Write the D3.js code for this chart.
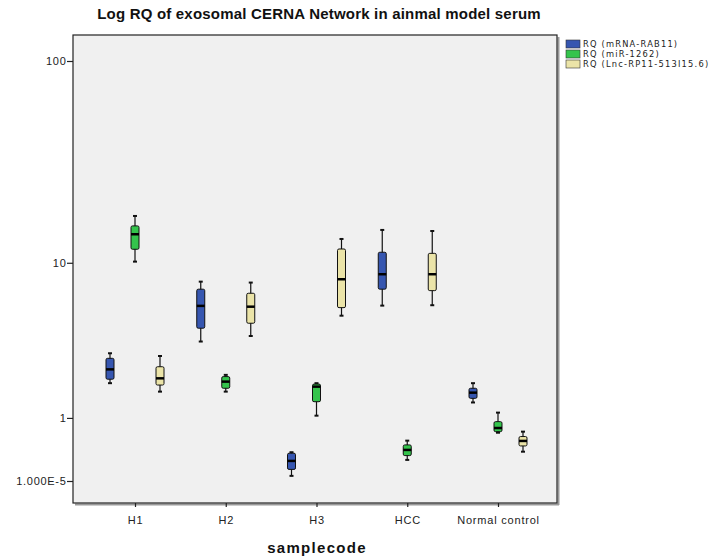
<!DOCTYPE html>
<html>
<head>
<meta charset="utf-8">
<script src="https://cdn.jsdelivr.net/npm/d3@7"></script>
<style>
  body { margin: 0; background: #fff; }
  svg { font-family: "Liberation Sans", Arial, sans-serif; }
</style>
</head>
<body>
<svg id="chart" width="725" height="557"></svg>
<script>
// categories on the x axis and the three series
const categories = ["H1", "H2", "H3", "HCC", "Normal control"];
const seriesNames = ["RQ (mRNA-RAB11)", "RQ (miR-1262)", "RQ (Lnc-RP11-513I15.6)"];
const seriesColors = ["#3656b0", "#34c44c", "#ebe4a8"];

// five-number summaries per category: [min, q1, median, q3, max]
const rab11 = [
  [1.93, 2.06, 2.41, 2.85, 3.07],
  [3.63, 4.36, 5.85, 7.23, 7.94],
  [0.058, 0.136, 0.247, 0.357, 0.372],
  [5.87, 7.23, 8.7, 11.35, 14.78],
  [1.37, 1.48, 1.64, 1.77, 1.93]
];
const mir1262 = [
  [10.14, 11.76, 14.05, 15.5, 17.4],
  [1.67, 1.77, 1.98, 2.15, 2.21],
  [1.05, 1.39, 1.82, 1.9, 1.93],
  [0.261, 0.322, 0.407, 0.487, 0.558],
  [0.7, 0.72, 0.79, 0.92, 1.12]
];
const lncRP11 = [
  [1.67, 1.87, 2.09, 2.51, 2.95],
  [3.92, 4.66, 5.79, 6.87, 7.85],
  [5.15, 5.72, 8.18, 11.8, 13.29],
  [5.9, 7.1, 8.7, 11.2, 14.6],
  [0.38, 0.47, 0.553, 0.63, 0.72]
];

// y ticks as SPSS printed them
const yTickValues = [0.00001, 1, 10, 100];
const yTickLabels = ["1.000E-5", "1", "10", "100"];

const allSeries = [rab11, mir1262, lncRP11];

const svg = d3.select("#chart");
const frame = { left: 73, right: 557, top: 35, bottom: 503 };

// the axis is log10(x + 1), i.e. a symlog with constant 1
const y = d3.scaleSymlog().constant(1).domain([0, 100]).range([481, 61]);
const x = d3.scalePoint().domain(categories).range([135, 498]);
const xSeries = d3.scaleBand().domain(seriesNames).range([-37.5, 37.5]);
const boxW = 8;

// plot frame with shadow
svg.append("line")
  .attr("x1", frame.left + 2).attr("x2", frame.right + 2)
  .attr("y1", frame.bottom + 1.5).attr("y2", frame.bottom + 1.5)
  .attr("stroke", "#999").attr("stroke-width", 2);
svg.append("line")
  .attr("x1", frame.right + 1.5).attr("x2", frame.right + 1.5)
  .attr("y1", frame.top + 2).attr("y2", frame.bottom + 2)
  .attr("stroke", "#999").attr("stroke-width", 2);
svg.append("rect")
  .attr("x", frame.left).attr("y", frame.top)
  .attr("width", frame.right - frame.left)
  .attr("height", frame.bottom - frame.top)
  .attr("fill", "#f0f0f0")
  .attr("stroke", "#222").attr("stroke-width", 1.2);

// y axis
const yAxis = d3.axisLeft(y)
  .tickValues(yTickValues)
  .tickSize(6)
  .tickFormat((d, i) => yTickLabels[i]);
svg.append("g")
  .attr("transform", `translate(${frame.left},0)`)
  .call(yAxis)
  .call((g) => g.select(".domain").remove())
  .call((g) => g.selectAll("line").attr("stroke", "#222").attr("stroke-width", 1.2))
  .call((g) => g.selectAll("text")
    .attr("font-size", 11).attr("letter-spacing", 0.7)
    .attr("fill", "#222").attr("x", -6.5));

// x axis
const xAxis = d3.axisBottom(x).tickSize(4).tickPadding(9);
svg.append("g")
  .attr("transform", `translate(0,${frame.bottom})`)
  .call(xAxis)
  .call((g) => g.select(".domain").remove())
  .call((g) => g.selectAll("line").attr("stroke", "#222").attr("stroke-width", 1.2))
  .call((g) => g.selectAll("text")
    .attr("font-size", 11).attr("letter-spacing", 0.8).attr("fill", "#222"));

// boxes
const boxData = [];
allSeries.forEach((s, si) => {
  s.forEach((stats, ci) => {
    boxData.push({ cat: categories[ci], series: seriesNames[si], color: seriesColors[si], stats });
  });
});

const boxG = svg.append("g")
  .selectAll("g.box")
  .data(boxData)
  .enter()
  .append("g")
  .attr("class", "box")
  .attr("transform", (d) => `translate(${x(d.cat) + xSeries(d.series) + xSeries.bandwidth() / 2},0)`);

boxG.append("line")
  .attr("y1", (d) => y(d.stats[0]))
  .attr("y2", (d) => y(d.stats[4]))
  .attr("stroke", "#111").attr("stroke-width", 1.2);
boxG.selectAll("line.cap")
  .data((d) => [d.stats[0], d.stats[4]])
  .enter()
  .append("line")
  .attr("class", "cap")
  .attr("x1", -2).attr("x2", 2)
  .attr("y1", (v) => y(v)).attr("y2", (v) => y(v))
  .attr("stroke", "#111").attr("stroke-width", 2);
boxG.append("rect")
  .attr("x", -boxW / 2)
  .attr("width", boxW)
  .attr("y", (d) => y(d.stats[3]))
  .attr("height", (d) => Math.max(2, y(d.stats[1]) - y(d.stats[3])))
  .attr("rx", 1.5)
  .attr("fill", (d) => d.color)
  .attr("stroke", "#111").attr("stroke-width", 1);
boxG.append("line")
  .attr("x1", -boxW / 2).attr("x2", boxW / 2)
  .attr("y1", (d) => y(d.stats[2])).attr("y2", (d) => y(d.stats[2]))
  .attr("stroke", "#000").attr("stroke-width", 2.5);

// title
svg.append("text")
  .attr("x", 319).attr("y", 19)
  .attr("text-anchor", "middle")
  .attr("font-size", 15).attr("font-weight", "bold").attr("fill", "#111")
  .attr("letter-spacing", 0.2)
  .text("Log RQ of exosomal CERNA Network in ainmal model serum");

// x axis title
svg.append("text")
  .attr("x", 317).attr("y", 553)
  .attr("text-anchor", "middle")
  .attr("font-size", 15).attr("font-weight", "bold").attr("fill", "#111")
  .attr("letter-spacing", 1.3)
  .text("samplecode");

// legend
const legend = svg.append("g")
  .attr("transform", "translate(566,40)")
  .selectAll("g")
  .data(seriesNames)
  .enter()
  .append("g")
  .attr("transform", (d, i) => `translate(0,${i * 10})`);
legend.append("rect")
  .attr("width", 14).attr("height", 8)
  .attr("fill", (d, i) => seriesColors[i])
  .attr("stroke", "#333").attr("stroke-width", 0.6);
legend.append("text")
  .attr("x", 17).attr("y", 7.3)
  .attr("font-family", "DejaVu Sans, sans-serif")
  .attr("font-size", 8.3).attr("letter-spacing", 1.2).attr("fill", "#222")
  .text((d) => d);
</script>
</body>
</html>
